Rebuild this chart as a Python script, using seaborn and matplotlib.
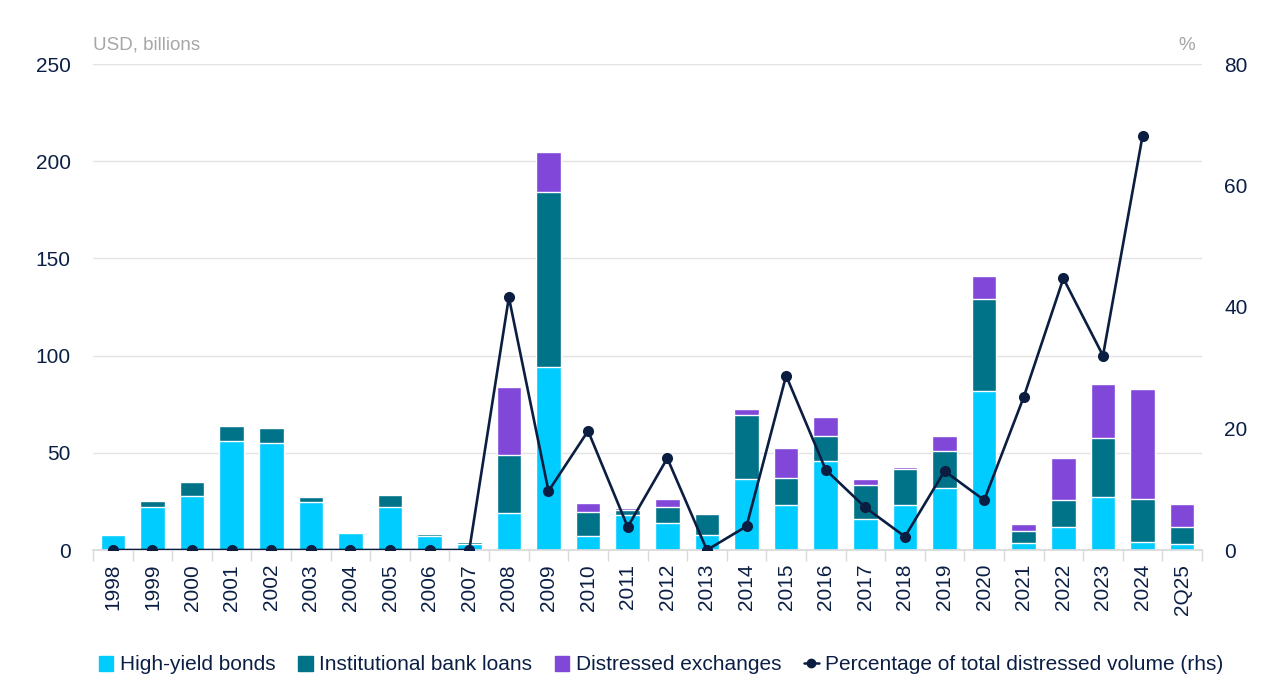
import numpy as np
import pandas as pd
import matplotlib
matplotlib.use("Agg")
import matplotlib.pyplot as plt
import seaborn as sns
from matplotlib.lines import Line2D
from matplotlib.patches import Patch

# values
years = ['1998', '1999', '2000', '2001', '2002', '2003', '2004', '2005', '2006', '2007',
         '2008', '2009', '2010', '2011', '2012', '2013', '2014', '2015', '2016', '2017',
         '2018', '2019', '2020', '2021', '2022', '2023', '2024', '2Q25']
high_yield = [7.5, 22, 28, 56, 55, 24.5, 8.6, 22.3, 7, 3,
              19, 94.3, 7.4, 18, 13.7, 7.7, 36.7, 23, 45.9, 16.1,
              23.3, 31.9, 82, 3.8, 11.8, 27.1, 4.1, 3.2]
bank_loans = [0.8, 3, 7, 8, 8, 3, 0.8, 6, 1.2, 1.2,
              30, 90, 12.3, 2.6, 8.4, 10.8, 32.7, 14.2, 12.9, 17.3,
              18.4, 19, 47.3, 6, 13.9, 30.7, 22, 8.6]
exchanges = [0, 0, 0, 0, 0, 0, 0, 0, 0, 0,
             35, 20.4, 4.5, 0.8, 4, 0, 3.1, 15.3, 9.4, 3,
             0.8, 7.9, 11.8, 3.4, 21.5, 27.8, 56.9, 12]
pct_distressed = [0, 0, 0, 0, 0, 0, 0, 0, 0, 0,
                  41.6, 9.7, 19.6, 3.8, 15.1, 0, 3.9, 28.7, 13.2, 7.0,
                  2.2, 13, 8.2, 25.2, 44.7, 32, 68.2, np.nan]

c_hy = '#00CCFF'
c_ibl = '#007389'
c_de = '#8047D9'
c_line = '#0B1E42'
c_text = '#0B1F45'

sns.set_theme(style="white")
plt.rcParams['font.family'] = ['Liberation Sans', 'DejaVu Sans']

df = pd.DataFrame({'year': years, 'hy': high_yield, 'ibl': bank_loans, 'de': exchanges,
                   'pct': pct_distressed})
df['hy_ibl'] = df['hy'] + df['ibl']
df['total'] = df['hy_ibl'] + df['de']
df['pos'] = np.arange(len(df))

fig = plt.figure(figsize=(12.8, 6.99), dpi=100)
ax = fig.add_axes([93 / 1280, 1 - 550 / 699, (1202 - 93) / 1280, (550 - 64) / 699])

# stacked bars: draw cumulative totals back to front
sns.barplot(data=df, x='year', y='total', color=c_de, width=0.62, saturation=1, ax=ax, zorder=2)
sns.barplot(data=df, x='year', y='hy_ibl', color=c_ibl, width=0.62, saturation=1, ax=ax, zorder=2)
sns.barplot(data=df, x='year', y='hy', color=c_hy, width=0.62, saturation=1, ax=ax, zorder=2)

ax.set_ylim(0, 250)
ax.set_xlim(-0.5, len(df) - 0.5)
ax.set_yticks(np.arange(0, 251, 50))
ax.yaxis.grid(True, color='#e3e3e3', lw=1)
ax.set_axisbelow(True)
for s in ['top', 'right', 'left']:
    ax.spines[s].set_visible(False)
ax.spines['bottom'].set_color('#d9d9d9')
ax.set_xlabel('')
ax.set_ylabel('')
ax.set_xticks(np.arange(len(df) + 1) - 0.5, minor=True)
ax.tick_params(axis='x', which='minor', length=8, color='#d9d9d9', width=1, bottom=True)
ax.tick_params(axis='x', which='major', length=0, pad=10, labelsize=15, labelcolor=c_text,
               labelrotation=90)
ax.tick_params(axis='y', length=0, pad=16, labelsize=15, labelcolor=c_text)

ax2 = ax.twinx()
line_df = df.dropna(subset=['pct'])
sns.lineplot(data=line_df, x='pos', y='pct', color=c_line, lw=1.9, marker='o', markersize=8,
             markeredgewidth=0, sort=False, ax=ax2, zorder=5)
ax2.set_ylim(0, 80)
ax2.set_xlim(-0.5, len(df) - 0.5)
ax2.set_yticks(np.arange(0, 81, 20))
for s in ['top', 'right', 'left', 'bottom']:
    ax2.spines[s].set_visible(False)
ax2.set_xlabel('')
ax2.set_ylabel('')
ax2.tick_params(axis='y', length=0, pad=16, labelsize=15, labelcolor=c_text)
ax2.grid(False)

fig.text(93 / 1280, 1 - 45 / 699, 'USD, billions', fontsize=13.5, color='#a6a6a6',
         va='center', ha='left')
fig.text(1195 / 1280, 1 - 45 / 699, '%', fontsize=13.5, color='#a6a6a6',
         va='center', ha='right')

handles = [
    Patch(color=c_hy, label='High-yield bonds'),
    Patch(color=c_ibl, label='Institutional bank loans'),
    Patch(color=c_de, label='Distressed exchanges'),
    Line2D([0], [0], color=c_line, lw=1.8, marker='o', markersize=6,
           label='Percentage of total distressed volume (rhs)'),
]
leg = fig.legend(handles=handles, loc='center', bbox_to_anchor=(661 / 1280, 1 - 665 / 699),
                 ncol=4, frameon=False, fontsize=15, handlelength=0.7, handleheight=0.7,
                 handletextpad=0.3, columnspacing=1.1)
for t in leg.get_texts():
    t.set_color(c_text)

fig.savefig('out.png', dpi=100)
